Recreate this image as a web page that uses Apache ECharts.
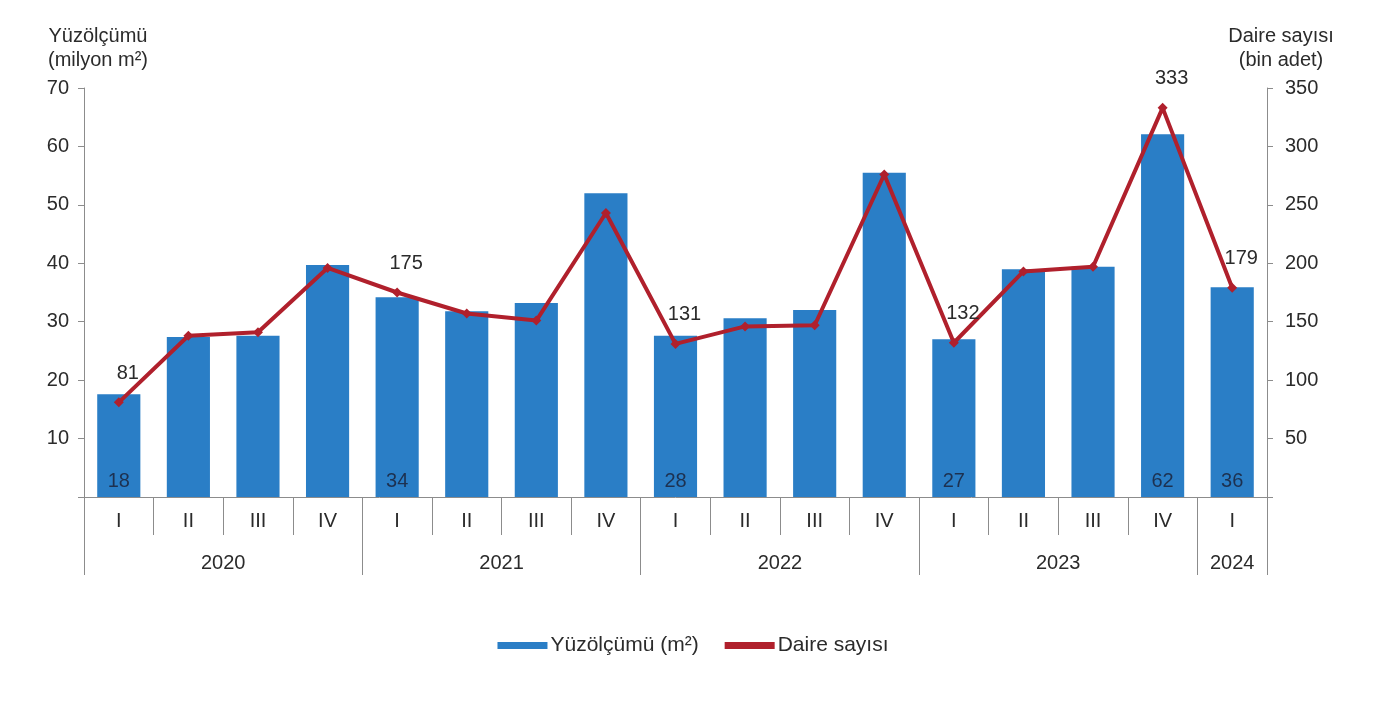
<!DOCTYPE html>
<html><head><meta charset="utf-8">
<script src="https://cdn.jsdelivr.net/npm/echarts@6/dist/echarts.min.js"></script>
<style>html,body{margin:0;padding:0;background:#fff}#c{width:1386px;height:711px}</style>
</head><body><div id="c"></div>
<script>
const quarters = ['I','II','III','IV','I','II','III','IV','I','II','III','IV','I','II','III','IV','I'];
const years = ['2020','2021','2022','2023','2024'];
const yearGroupSizes = [4,4,4,4,1];
const areaValues = [17.6,27.4,27.6,39.7,34.2,31.8,33.2,52.0,27.6,30.6,32.0,55.5,27.0,39.0,39.4,62.1,35.9];
const dwellingValues = [81,138,141,196,175,157,151,243,131,146,147,276,132,193,197,333,179];
const labeledIdx = [0,4,8,12,15,16];
const seriesNames = ['Yüzölçümü (m²)','Daire sayısı'];

const FONT = '"Liberation Sans", Arial, sans-serif';
const TXT = '#2b2b2b';
const AX = '#8c8c8c';
const FS = 20;
const gridL = 84, gridR = 119;
const band = (1386 - gridL - gridR) / quarters.length;

// build year axis categories
const yearStarts = [];
const yearAxisData = new Array(quarters.length).fill('');
let pos = 0;
yearGroupSizes.forEach((n, i) => {
  yearStarts.push(pos);
  if (n % 2 === 0) yearAxisData[pos + n/2 - 1] = '{s|' + years[i] + '}';
  else yearAxisData[pos + (n-1)/2] = '{c|' + years[i] + '}';
  pos += n;
});

const chart = echarts.init(document.getElementById('c'));
chart.setOption({
  animation: false,
  textStyle: {fontFamily: FONT},
  title: [
    {text: 'Yüzölçümü\n(milyon m²)', left: 93, top: 19, textAlign: 'center',
     textStyle: {fontFamily: FONT, fontSize: FS, fontWeight: 'normal', color: TXT, lineHeight: 24}},
    {text: 'Daire sayısı\n(bin adet)', left: 1276, top: 19, textAlign: 'center',
     textStyle: {fontFamily: FONT, fontSize: FS, fontWeight: 'normal', color: TXT, lineHeight: 24}}
  ],
  legend: {
    left: 'center', top: 630, itemGap: 26, itemWidth: 50, itemHeight: 7,
    textStyle: {fontFamily: FONT, fontSize: 21, color: TXT, padding: [0,0,0,-2]},
    data: [{name: seriesNames[0], icon: 'rect'}, {name: seriesNames[1], icon: 'rect'}]
  },
  grid: {left: gridL, right: gridR, top: 88, bottom: 214},
  xAxis: [
    {type: 'category', data: quarters, position: 'bottom',
     axisLine: {lineStyle: {color: AX, width: 1}},
     axisTick: {show: true, length: 38, alignWithLabel: false, interval: 0, lineStyle: {color: AX}},
     axisLabel: {interval: 0, margin: 14, fontSize: FS, color: TXT, fontFamily: FONT}},
    {type: 'category', data: yearAxisData, position: 'bottom',
     axisLine: {show: false},
     axisTick: {show: true, length: 78, alignWithLabel: false,
       interval: (i) => yearStarts.includes(i), lineStyle: {color: AX}},
     axisLabel: {interval: 0, margin: 56, color: TXT, fontFamily: FONT, fontSize: FS,
       rich: {s: {fontSize: FS, color: TXT, fontFamily: FONT, padding: [0,0,0,band]},
              c: {fontSize: FS, color: TXT, fontFamily: FONT}}}}
  ],
  yAxis: [
    {type: 'value', min: 0, max: 70, interval: 10, position: 'left',
     splitLine: {show: false},
     axisLine: {show: true, lineStyle: {color: AX}},
     axisTick: {show: true, length: 6, lineStyle: {color: AX}},
     axisLabel: {margin: 15, fontSize: FS, color: TXT, fontFamily: FONT,
       formatter: v => v === 0 ? '' : v}},
    {type: 'value', min: 0, max: 350, interval: 50, position: 'right',
     splitLine: {show: false},
     axisLine: {show: true, lineStyle: {color: AX}},
     axisTick: {show: true, length: 6, lineStyle: {color: AX}},
     axisLabel: {margin: 18, fontSize: FS, color: TXT, fontFamily: FONT,
       formatter: v => v === 0 ? '' : v}}
  ],
  series: [
    {name: seriesNames[0], type: 'bar', xAxisIndex: 0, yAxisIndex: 0, data: areaValues,
     barCategoryGap: '38%',
     itemStyle: {color: '#2a7ec6'},
     label: {show: true, position: 'insideBottom', distance: 6, fontSize: FS, color: '#1d3150', fontFamily: FONT,
       formatter: p => labeledIdx.includes(p.dataIndex) ? String(Math.round(p.value)) : ''}},
    {name: seriesNames[1], type: 'line', xAxisIndex: 0, yAxisIndex: 1, data: dwellingValues,
     symbol: 'diamond', symbolSize: 10,
     lineStyle: {color: '#b0202c', width: 4},
     itemStyle: {color: '#b0202c'},
     label: {show: true, position: 'top', distance: 14, offset: [9, 0], fontSize: FS, color: TXT, fontFamily: FONT,
       formatter: p => labeledIdx.includes(p.dataIndex) ? String(p.value) : ''}}
  ]
});
</script></body></html>
